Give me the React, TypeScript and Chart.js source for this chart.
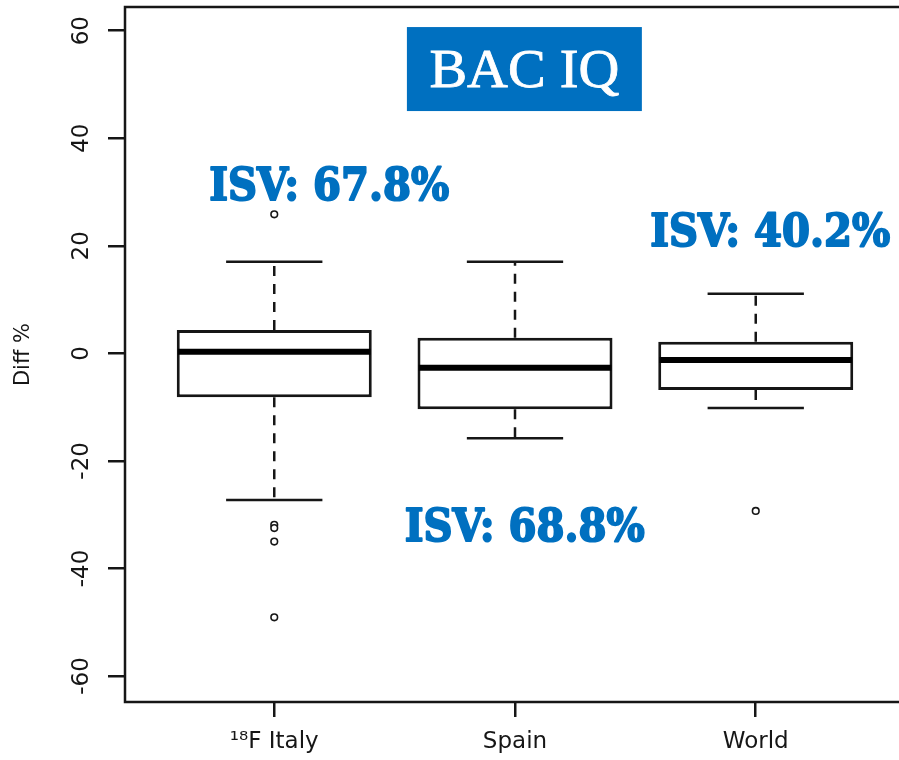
import React, { useEffect, useRef } from 'react';
import { Chart, registerables } from 'chart.js';

Chart.register(...registerables);

// ---- data ----
const CATEGORIES = ['¹⁸F Italy', 'Spain', 'World'];
const Q1 = [-8.18, -10.41, -6.82];
const MEDIAN = [0.3, -2.68, -1.25];
const Q3 = [4.33, 2.9, 2.16];
const WHISKER_LOW = [-27.28, -15.8, -10.17];
const WHISKER_HIGH = [17.03, 17.03, 11.08];
const OUTLIER_GROUP = [1, 1, 1, 1, 1, 3];
const OUTLIER_VALUE = [25.85, -31.9, -32.5, -35.0, -49.1, -29.3];
const Y_TICKS = [-60, -40, -20, 0, 20, 40, 60];
const Y_MIN = -64.84;
const Y_MAX = 64.4;
const X_MIN = 0.38;
const X_MAX = 3.62;
const Y_TITLE = 'Diff %';
const ISV_TEXT = ['ISV: 67.8%', 'ISV: 68.8%', 'ISV: 40.2%'];
const ISV_X = [1.228, 2.04, 3.06];
const ISV_Y = [28.5, -34.85, 19.95];
const BADGE_TEXT = 'BAC IQ';
const BADGE_X = [1.551, 2.527];
const BADGE_Y = [45.05, 60.67];

// ---- styles ----
const INK = '#161616';
const BLUE = '#0070C0';
const BOX_HALF = 0.4;
const CAP_HALF = 0.2;
const ISV_WIDTH = 240;
const LINE_W = 2.5;

const framePlugin = {
  id: 'frame',
  afterDraw(chart: any) {
    const { ctx, chartArea } = chart;
    const { left, top, right, bottom } = chartArea;
    ctx.save();
    ctx.strokeStyle = INK;
    ctx.lineWidth = LINE_W;
    ctx.strokeRect(left, top, right - left, bottom - top);
    ctx.restore();
  },
};

const annotationPlugin = {
  id: 'annotations',
  afterDraw(chart: any) {
    const { ctx } = chart;
    const xs = chart.scales.x;
    const ys = chart.scales.y;
    ctx.save();
    // badge
    const bx0 = xs.getPixelForValue(BADGE_X[0]);
    const bx1 = xs.getPixelForValue(BADGE_X[1]);
    const by0 = ys.getPixelForValue(BADGE_Y[1]);
    const by1 = ys.getPixelForValue(BADGE_Y[0]);
    ctx.fillStyle = BLUE;
    ctx.fillRect(bx0, by0, bx1 - bx0, by1 - by0);
    ctx.fillStyle = '#ffffff';
    ctx.strokeStyle = '#ffffff';
    ctx.lineWidth = 0.8;
    ctx.font = '54px "Liberation Serif"';
    ctx.textAlign = 'center';
    ctx.textBaseline = 'alphabetic';
    const bcx = (bx0 + bx1) / 2;
    const bcy = (by0 + by1) / 2;
    const bw = ctx.measureText(BADGE_TEXT).width;
    ctx.save();
    ctx.translate(bcx, bcy + 18);
    ctx.scale(190 / bw, 1);
    ctx.fillText(BADGE_TEXT, 0, 0);
    ctx.strokeText(BADGE_TEXT, 0, 0);
    ctx.restore();

    // ISV labels
    ctx.font = 'bold 45px "DejaVu Serif"';
    ctx.fillStyle = BLUE;
    ctx.strokeStyle = BLUE;
    ctx.lineWidth = 2;
    ctx.lineJoin = 'round';
    ISV_TEXT.forEach((t, i) => {
      const px = xs.getPixelForValue(ISV_X[i]);
      const py = ys.getPixelForValue(ISV_Y[i]);
      const w = ctx.measureText(t).width;
      ctx.save();
      ctx.translate(px, py);
      ctx.scale(ISV_WIDTH / w, 1);
      ctx.fillText(t, 0, 0);
      ctx.strokeText(t, 0, 0);
      ctx.restore();
    });
    ctx.restore();
  },
};

export default function App() {
  const canvasRef = useRef<HTMLCanvasElement | null>(null);

  useEffect(() => {
    const canvas = canvasRef.current;
    if (!canvas) return;

    const boxData = CATEGORIES.map((_, i) => ({ x: i + 1, y: [Q1[i], Q3[i]] }));
    const whiskerData: any[] = [];
    const capData: any[] = [];
    const medianData: any[] = [];
    CATEGORIES.forEach((_, i) => {
      const c = i + 1;
      whiskerData.push(
        { x: c, y: Q3[i] },
        { x: c, y: WHISKER_HIGH[i] },
        { x: c, y: null },
        { x: c, y: Q1[i] },
        { x: c, y: WHISKER_LOW[i] },
        { x: c, y: null }
      );
      capData.push(
        { x: c - CAP_HALF, y: WHISKER_HIGH[i] },
        { x: c + CAP_HALF, y: WHISKER_HIGH[i] },
        { x: c + CAP_HALF, y: null },
        { x: c - CAP_HALF, y: WHISKER_LOW[i] },
        { x: c + CAP_HALF, y: WHISKER_LOW[i] },
        { x: c + CAP_HALF, y: null }
      );
      medianData.push(
        { x: c - BOX_HALF, y: MEDIAN[i] },
        { x: c + BOX_HALF, y: MEDIAN[i] },
        { x: c + BOX_HALF, y: null }
      );
    });
    const outlierData = OUTLIER_VALUE.map((v, i) => ({ x: OUTLIER_GROUP[i], y: v }));

    const chart = new Chart(canvas, {
      type: 'bar',
      data: {
        datasets: [
          {
            type: 'scatter',
            label: 'outliers',
            data: outlierData,
            pointRadius: 3.3,
            pointBorderWidth: 1.6,
            pointBorderColor: INK,
            pointBackgroundColor: '#ffffff',
            order: 0,
          } as any,
          {
            type: 'line',
            label: 'median',
            data: medianData,
            borderColor: '#000000',
            borderWidth: 6,
            pointRadius: 0,
            fill: false,
            spanGaps: false,
            order: 1,
          } as any,
          {
            type: 'line',
            label: 'caps',
            data: capData,
            borderColor: INK,
            borderWidth: LINE_W,
            pointRadius: 0,
            fill: false,
            spanGaps: false,
            order: 2,
          } as any,
          {
            type: 'line',
            label: 'whiskers',
            data: whiskerData,
            borderColor: INK,
            borderWidth: LINE_W,
            borderDash: [10, 8],
            pointRadius: 0,
            fill: false,
            spanGaps: false,
            order: 4,
          } as any,
          {
            type: 'bar',
            label: 'box',
            data: boxData,
            backgroundColor: '#ffffff',
            borderColor: INK,
            borderWidth: 3,
            borderSkipped: false,
            barPercentage: 0.81,
            categoryPercentage: 1,
            order: 3,
          } as any,
        ],
      },
      options: {
        responsive: false,
        animation: false,
        events: [],
        layout: { padding: { top: 7, right: 7, bottom: 0, left: 0 } },
        plugins: {
          legend: { display: false },
          tooltip: { enabled: false },
          title: { display: false },
        },
        scales: {
          x: {
            type: 'linear',
            min: X_MIN,
            max: X_MAX,
            offset: false,
            afterBuildTicks: (scale: any) => {
              scale.ticks = CATEGORIES.map((_, i) => ({ value: i + 1 }));
            },
            afterFit: (scale: any) => {
              scale.height = 58;
              scale.paddingLeft = 0;
              scale.paddingRight = 0;
            },
            grid: {
              display: true,
              drawOnChartArea: false,
              drawTicks: true,
              tickLength: 15,
              lineWidth: LINE_W,
              color: INK,
              offset: false,
            },
            border: { display: false },
            ticks: {
              autoSkip: false,
              maxRotation: 0,
              minRotation: 0,
              padding: 11,
              color: INK,
              font: { family: 'DejaVu Sans', size: 23 },
              callback: (v: any) => CATEGORIES[Math.round(Number(v)) - 1] ?? '',
            },
          },
          y: {
            type: 'linear',
            min: Y_MIN,
            max: Y_MAX,
            afterBuildTicks: (scale: any) => {
              scale.ticks = Y_TICKS.map((v) => ({ value: v }));
            },
            afterFit: (scale: any) => {
              scale.width = 125;
              scale.paddingTop = 0;
              scale.paddingBottom = 0;
            },
            grid: {
              display: true,
              drawOnChartArea: false,
              drawTicks: true,
              tickLength: 17,
              lineWidth: LINE_W,
              color: INK,
            },
            border: { display: false },
            ticks: {
              minRotation: 90,
              maxRotation: 90,
              crossAlign: 'center',
              padding: 7,
              color: INK,
              font: { family: 'DejaVu Sans', size: 23 },
              callback: (v: any) => String(v),
            },
            title: {
              display: true,
              text: Y_TITLE,
              color: INK,
              font: { family: 'DejaVu Sans', size: 21 },
              padding: { top: 11, bottom: 0 },
            },
          },
        },
      } as any,
      plugins: [framePlugin, annotationPlugin],
    });

    return () => {
      chart.destroy();
    };
  }, []);

  return (
    <div
      style={{
        position: 'fixed',
        left: 0,
        top: 0,
        width: 899,
        height: 760,
        overflow: 'hidden',
        background: '#ffffff',
      }}
    >
      <canvas ref={canvasRef} width={912} height={760} style={{ display: 'block' }} />
    </div>
  );
}
